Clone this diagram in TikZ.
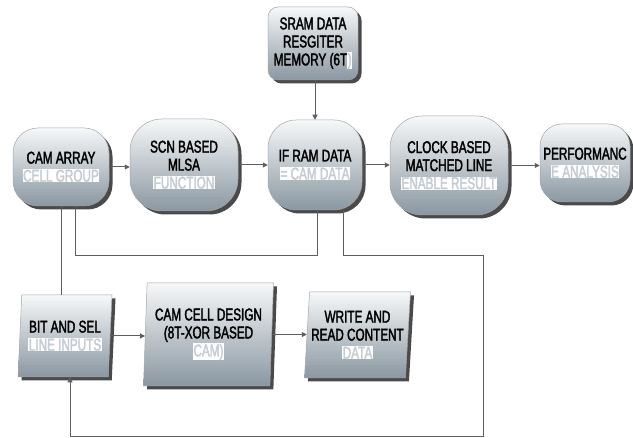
\documentclass[tikz,border=0pt]{standalone}
\usepackage{fontspec}
\setmainfont{Liberation Sans}[FakeStretch=0.69,FakeBold=2]
\usetikzlibrary{shapes.geometric,shadows,arrows.meta}
\definecolor{boxtop}{HTML}{F6F8F9}
\definecolor{boxbot}{HTML}{8A97A1}
\definecolor{hlgray}{HTML}{C4CCD3}
\definecolor{linec}{HTML}{5E5E5E}
\definecolor{shadowc}{HTML}{4A4A4A}
\newcommand\hlt[1]{{\setlength\fboxsep{0.6pt}\colorbox{white}{\textcolor{hlgray}{#1}}}}
\begin{document}
\begin{tikzpicture}[x=1pt,y=-1pt,
 font=\fontsize{17}{18}\selectfont,
 boxbase/.style={draw=gray!70, line width=0.5pt, top color=boxtop, bottom color=boxbot,
   inner sep=0pt, align=center,
   drop shadow={shadow xshift=3.5pt, shadow yshift=-3.5pt, fill=shadowc, opacity=1}},
 roundbox/.style={boxbase, rectangle, rounded corners=#1},
 slantbox/.style={boxbase, trapezium, trapezium left angle=#1, trapezium right angle=180-#1,
   trapezium stretches body=true},
 link/.style={draw=linec, line width=1pt},
 arr/.style={link, -{Triangle[length=5pt,width=5pt]}},
]
\useasboundingbox[fill=white] (0,0) rectangle (633,438);

% top row
\node[roundbox=10pt, minimum width=90pt, minimum height=73pt] (sram) at (313,43.5)
  {SRAM DATA\\RESGITER\\MEMORY (6T\hlt{)}};
\node[roundbox=25pt, minimum width=96pt, minimum height=78pt] (cam) at (61,167)
  {CAM ARRAY\\\hlt{CELL GROUP}};
\node[roundbox=32pt, minimum width=108pt, minimum height=92pt] (scn) at (184,165)
  {SCN BASED\\MLSA\\\hlt{FUNCTION}};
\node[roundbox=28pt, minimum width=94pt, minimum height=90pt] (ifram) at (315,165)
  {IF RAM DATA\\\hlt{= CAM DATA}};
\node[roundbox=32pt, minimum width=118pt, minimum height=99pt] (clock) at (449,165.5)
  {CLOCK BASED\\MATCHED LINE\\\hlt{ENABLE RESULT}};
\node[roundbox=22pt, minimum width=90pt, minimum height=78pt] (perf) at (585,163)
  {PERFORMANC\\\hlt{E ANALYSIS}};

% bottom row
\node[slantbox=83, minimum width=94pt, minimum height=82pt] (bit) at (65,336)
  {BIT AND SEL\\\hlt{LINE INPUTS}};
\node[slantbox=86, minimum width=130pt, minimum height=103pt] (camcell) at (208.5,334.5)
  {CAM CELL DESIGN\\(8T-XOR BASED\\\hlt{CAM)}};
\node[slantbox=84, minimum width=106pt, minimum height=86pt] (write) at (357.5,335)
  {WRITE AND\\READ CONTENT\\\hlt{DATA}};

% junction coordinates
\coordinate (ja) at (75,256);
\coordinate (jb) at (317,256);
\coordinate (jc) at (343,256);
\coordinate (jd) at (483,256);
\coordinate (je) at (483,437);
\coordinate (jf) at (70,437);

% connectors
\draw[arr] (cam.east) -- (cam.east -| scn.west);
\draw[arr] (scn.east) -- (scn.east -| ifram.west);
\draw[arr] (ifram.east) -- (ifram.east -| clock.west);
\draw[arr] (clock.east) -- (clock.east -| perf.west);
\draw[arr] (sram.south -| ifram.north) -- (ifram.north);
\draw[link] (cam.south) -- (cam.south |- bit.north);
\draw[link] (ja |- cam.south) -- (ja) -- (jb) -- (jb |- ifram.south);
\draw[arr] (jc |- ifram.south) -- (jc) -- (jd) -- (je) -- (jf) -- (jf |- bit.south);
\draw[arr] (bit.east) -- (bit.east -| camcell.west);
\draw[arr] (camcell.east) -- (camcell.east -| write.west);
\end{tikzpicture}
\end{document}
